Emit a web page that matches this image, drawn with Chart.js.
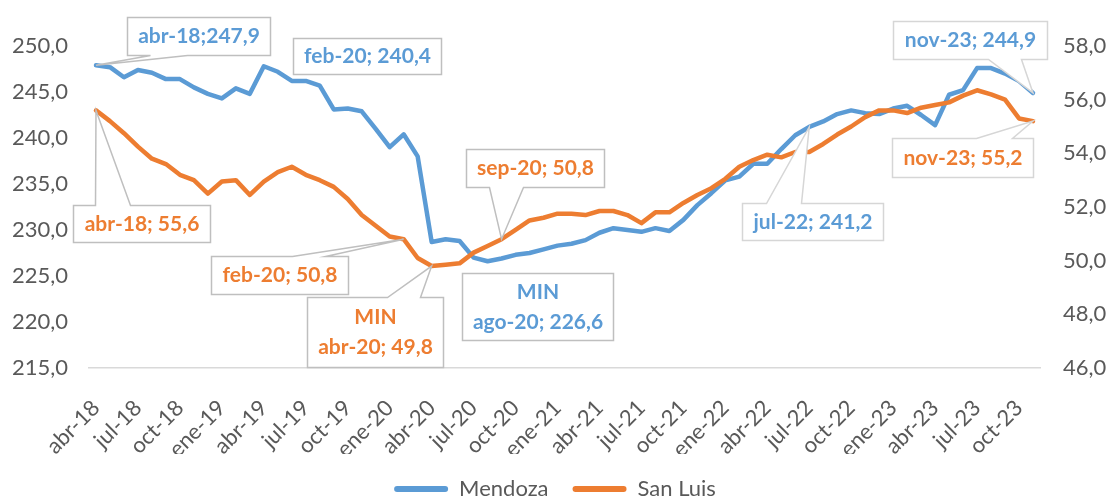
<!DOCTYPE html>
<html lang="es">
<head>
<meta charset="UTF-8">
<title>Mendoza y San Luis</title>
<script src="https://cdn.jsdelivr.net/npm/chart.js"></script>
<style>
  html, body { margin: 0; padding: 0; background: #fff; }
  #wrap { width: 1110px; height: 500px; }
</style>
</head>
<body>
<div id="wrap"><canvas id="chart" width="1110" height="500"></canvas></div>
<script>
// monthly series, abr-18 .. nov-23
const months = [
  'abr-18', 'may-18', 'jun-18', 'jul-18', 'ago-18', 'sep-18', 'oct-18', 'nov-18', 'dic-18',
  'ene-19', 'feb-19', 'mar-19', 'abr-19', 'may-19', 'jun-19', 'jul-19', 'ago-19', 'sep-19', 'oct-19', 'nov-19', 'dic-19',
  'ene-20', 'feb-20', 'mar-20', 'abr-20', 'may-20', 'jun-20', 'jul-20', 'ago-20', 'sep-20', 'oct-20', 'nov-20', 'dic-20',
  'ene-21', 'feb-21', 'mar-21', 'abr-21', 'may-21', 'jun-21', 'jul-21', 'ago-21', 'sep-21', 'oct-21', 'nov-21', 'dic-21',
  'ene-22', 'feb-22', 'mar-22', 'abr-22', 'may-22', 'jun-22', 'jul-22', 'ago-22', 'sep-22', 'oct-22', 'nov-22', 'dic-22',
  'ene-23', 'feb-23', 'mar-23', 'abr-23', 'may-23', 'jun-23', 'jul-23', 'ago-23', 'sep-23', 'oct-23', 'nov-23'
];

const mendoza = [
  247.9, 247.7, 246.6, 247.4, 247.1, 246.4, 246.4, 245.5, 244.8,
  244.3, 245.4, 244.8, 247.8, 247.2, 246.2, 246.2, 245.7, 243.1, 243.2, 242.9, 241.0,
  239.0, 240.4, 238.0, 228.7, 229.0, 228.8, 227.0, 226.6, 226.9, 227.3, 227.5, 227.9,
  228.3, 228.5, 228.9, 229.7, 230.2, 230.0, 229.8, 230.2, 229.9, 231.1, 232.7, 234.0,
  235.4, 235.8, 237.2, 237.2, 238.8, 240.3, 241.2, 241.8, 242.6, 243.0, 242.7, 242.6,
  243.2, 243.5, 242.5, 241.4, 244.7, 245.2, 247.6, 247.6, 247.0, 246.2, 244.9
];

const sanLuis = [
  55.6, 55.2, 54.75, 54.25, 53.8, 53.6, 53.2, 53.0, 52.5,
  52.95, 53.0, 52.45, 52.95, 53.3, 53.5, 53.2, 53.0, 52.75, 52.3, 51.7, 51.3,
  50.9, 50.8, 50.1, 49.8, 49.85, 49.9, 50.3, 50.55, 50.8, 51.15, 51.5, 51.6,
  51.75, 51.75, 51.7, 51.85, 51.85, 51.7, 51.4, 51.8, 51.8, 52.15, 52.45, 52.7,
  53.05, 53.5, 53.75, 53.95, 53.85, 54.05, 54.05, 54.35, 54.7, 55.0, 55.35, 55.6,
  55.6, 55.5, 55.7, 55.8, 55.9, 56.15, 56.35, 56.2, 56.0, 55.3, 55.2
];

const leftRange = [215, 250, 5];   // min, max, step
const rightRange = [46, 58, 2];

const BLUE = '#5B9BD5';
const ORANGE = '#ED7D31';
const GREY_TEXT = '#595959';

Chart.defaults.font.family = 'Lato, "Open Sans", sans-serif';

const fmt = v => v.toFixed(1).replace('.', ',');

// data labels (boxes are placed relative to their point)
const callouts = [
  { ds: 0, i: 0, sep: ';', dx: 31, dy: -48, w: 143, h: 38, wedge: ['bottom', 23, 60] },
  { ds: 0, i: 22, dx: -111, dy: -96, w: 148, h: 36 },
  { ds: 1, i: 29, dx: -36, dy: -90, w: 138, h: 38, wedge: ['bottom', 23, 57] },
  { ds: 0, i: 28, min: true, dx: -26, dy: 12, w: 151, h: 67 },
  { ds: 1, i: 0, dx: -23, dy: 95, w: 137, h: 37, wedge: ['top', 22, 57] },
  { ds: 1, i: 22, dx: -193, dy: 17, w: 137, h: 38, wedge: ['top', 81, 114] },
  { ds: 1, i: 24, min: true, dx: -125, dy: 31, w: 136, h: 70, wedge: ['top', 80, 113] },
  { ds: 0, i: 51, dx: -67, dy: 76, w: 141, h: 37, wedge: ['top', 24, 59], light: true },
  { ds: 0, i: 67, dx: -140, dy: -72, w: 154, h: 38, wedge: ['bottom', 95, 128], light: true },
  { ds: 1, i: 67, dx: -141, dy: 17, w: 141, h: 39, wedge: ['top', 84, 120], light: true }
];

const calloutPlugin = {
  id: 'callouts',
  afterDatasetsDraw(chart) {
    const ctx = chart.ctx;
    ctx.save();
    callouts.forEach(c => {
      const pt = chart.getDatasetMeta(c.ds).data[c.i];
      const px = pt.x, py = pt.y;
      const x = Math.round(px + c.dx) + 0.5, y = Math.round(py + c.dy) + 0.5;
      const w = c.w, h = c.h;
      ctx.beginPath();
      ctx.moveTo(x, y);
      if (c.wedge && c.wedge[0] === 'top') {
        ctx.lineTo(x + c.wedge[1], y);
        ctx.lineTo(px, py);
        ctx.lineTo(x + c.wedge[2], y);
      }
      ctx.lineTo(x + w, y);
      ctx.lineTo(x + w, y + h);
      if (c.wedge && c.wedge[0] === 'bottom') {
        ctx.lineTo(x + c.wedge[2], y + h);
        ctx.lineTo(px, py);
        ctx.lineTo(x + c.wedge[1], y + h);
      }
      ctx.lineTo(x, y + h);
      ctx.closePath();
      ctx.fillStyle = '#ffffff';
      ctx.fill();
      ctx.lineWidth = 1.5;
      ctx.strokeStyle = c.light ? '#D6D6D6' : '#BFBFBF';
      ctx.stroke();

      const ds = chart.data.datasets[c.ds];
      const main = months[c.i] + (c.sep || '; ') + fmt(ds.data[c.i]);
      const lines = c.min ? ['MIN', main] : [main];
      ctx.fillStyle = ds.borderColor;
      ctx.font = 'bold 21px Lato, "Open Sans", sans-serif';
      ctx.textAlign = 'center';
      ctx.textBaseline = 'middle';
      const cx = x + w / 2, cy = y + h / 2;
      lines.forEach((t, k) => {
        ctx.fillText(t, cx, cy + (k - (lines.length - 1) / 2) * 30);
      });
    });
    ctx.restore();
  }
};

new Chart(document.getElementById('chart'), {
  type: 'line',
  data: {
    labels: months,
    datasets: [
      {
        label: 'Mendoza', data: mendoza, yAxisID: 'y',
        borderColor: BLUE, backgroundColor: BLUE,
        borderWidth: 4.5, pointRadius: 0, tension: 0,
        borderJoinStyle: 'round', borderCapStyle: 'round', order: 2
      },
      {
        label: 'San Luis', data: sanLuis, yAxisID: 'y1',
        borderColor: ORANGE, backgroundColor: ORANGE,
        borderWidth: 4.5, pointRadius: 0, tension: 0,
        borderJoinStyle: 'round', borderCapStyle: 'round', order: 1
      }
    ]
  },
  options: {
    responsive: false,
    animation: false,
    layout: { padding: { top: 46, left: 0, right: 0, bottom: 0 } },
    plugins: {
      tooltip: { enabled: false },
      legend: {
        position: 'bottom',
        maxHeight: 46,
        labels: {
          color: GREY_TEXT,
          font: { size: 22 },
          boxWidth: 54,
          boxHeight: 6,
          padding: 24,
          useBorderRadius: true,
          borderRadius: 3,
          sort: (a, b) => a.datasetIndex - b.datasetIndex,
          generateLabels(chart) {
            const items = Chart.defaults.plugins.legend.labels.generateLabels(chart);
            items.forEach(it => { it.lineWidth = 0; it.fillStyle = it.strokeStyle; });
            return items;
          }
        }
      }
    },
    scales: {
      x: {
        offset: true,
        grid: { display: false, drawTicks: false },
        border: { display: true, color: '#D9D9D9', width: 1.5 },
        ticks: {
          color: GREY_TEXT,
          font: { size: 22 },
          autoSkip: false,
          maxRotation: 45,
          minRotation: 45,
          padding: 27,
          callback: (v, i) => (i % 3 === 0 ? months[i] : null)
        },
        afterFit: s => { s.height = 86; }
      },
      y: {
        position: 'left',
        min: leftRange[0], max: leftRange[1],
        grid: { display: false, drawTicks: false },
        border: { display: false },
        ticks: { stepSize: leftRange[2], color: GREY_TEXT, font: { size: 22 }, padding: 21, callback: v => fmt(v) },
        afterFit: s => { s.width = 89; }
      },
      y1: {
        position: 'right',
        min: rightRange[0], max: rightRange[1],
        grid: { display: false, drawTicks: false },
        border: { display: false },
        ticks: { stepSize: rightRange[2], color: GREY_TEXT, font: { size: 22 }, padding: 23, callback: v => fmt(v) },
        afterFit: s => { s.width = 70; }
      }
    }
  },
  plugins: [calloutPlugin]
});
</script>
</body>
</html>
